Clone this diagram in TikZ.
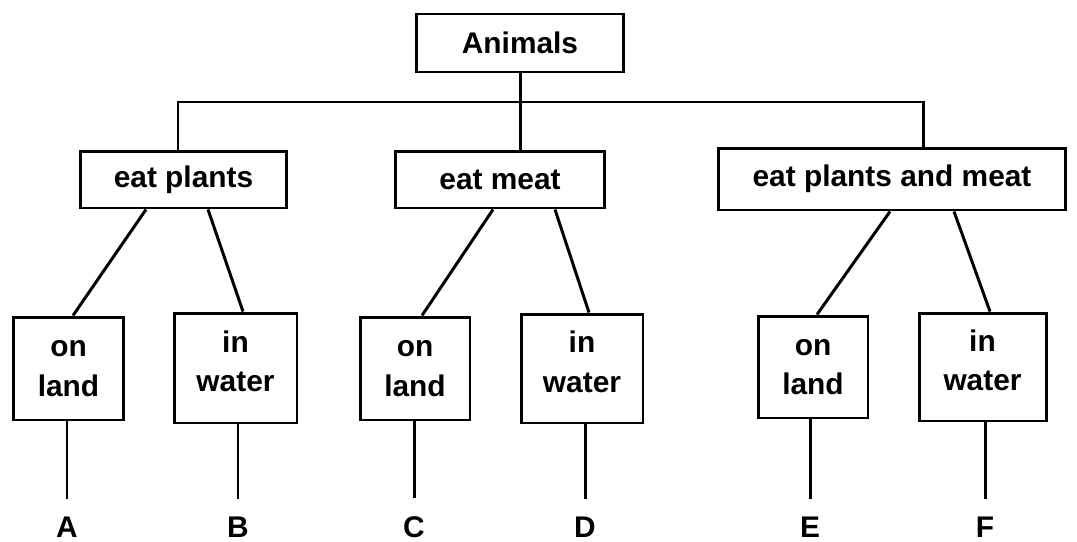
\documentclass[tikz,border=0pt]{standalone}
\usepackage{fontspec}
\setmainfont{Liberation Sans}
\usetikzlibrary{positioning}

\begin{document}
\begin{tikzpicture}[x=0.02cm, y=-0.02cm,
  block/.style={rectangle, draw=black, line width=1.7pt, align=center, inner sep=0pt, font=\bfseries\fontsize{17}{22.5}\selectfont},
  tag/.style={inner sep=0pt, outer sep=0.36cm, font=\bfseries\fontsize{17}{20}\selectfont},
  link/.style={line width=1.7pt}]

  \useasboundingbox (0,0) rectangle (1077,541);

  \node [block, minimum width=4.16cm, minimum height=1.16cm] (animals) at (520,43) {Animals};
  \node [block, minimum width=4.14cm, minimum height=1.14cm] (plants) at (183.5,179.5) {eat plants};
  \node [block, minimum width=4.2cm, minimum height=1.14cm] (meat) at (500,179.5) {eat meat};
  \node [block, minimum width=6.96cm, minimum height=1.24cm] (both) at (892,179) {eat plants and meat};

  \node [block, minimum width=2.22cm, minimum height=2.06cm] (land1) at (68.5,368.5) {on\\ land};
  \node [block, minimum width=2.46cm, minimum height=2.2cm] (water1) at (235.5,368) {in\\ water\rule[-0.28cm]{0pt}{0pt}};
  \node [block, minimum width=2.2cm, minimum height=2.06cm] (land2) at (415,368.5) {on\\ land};
  \node [block, minimum width=2.44cm, minimum height=2.18cm] (water2) at (582,368.5) {in\\ water\rule[-0.28cm]{0pt}{0pt}};
  \node [block, minimum width=2.2cm, minimum height=2.04cm] (land3) at (813,367) {on\\ land};
  \node [block, minimum width=2.54cm, minimum height=2.16cm] (water3) at (982.5,367) {in\\ water\rule[-0.28cm]{0pt}{0pt}};

  \node [tag] (A) at (67,527) {A};
  \node [tag] (B) at (238,527) {B};
  \node [tag] (C) at (414,527) {C};
  \node [tag] (D) at (585,527) {D};
  \node [tag] (E) at (810,527) {E};
  \node [tag] (F) at (985,527) {F};

  % top level
  \coordinate (bar) at (520,102);
  \draw [link] (animals.south) -- (animals.south |- meat.north);
  \draw [link] ([xshift=-0.11cm]plants.north) |- (bar) -| ([xshift=0.62cm]both.north);

  % second level
  \draw [link] ([xshift=-0.75cm]plants.south) -- ([xshift=0.09cm]land1.north);
  \draw [link] ([xshift=0.49cm]plants.south) -- ([xshift=0.15cm]water1.north);
  \draw [link] ([xshift=-0.14cm]meat.south) -- ([xshift=0.14cm]land2.north);
  \draw [link] ([xshift=1.1cm]meat.south) -- ([xshift=0.14cm]water2.north);
  \draw [link] ([xshift=-0.04cm]both.south) -- ([xshift=0.08cm]land3.north);
  \draw [link] ([xshift=1.24cm]both.south) -- ([xshift=0.15cm]water3.north);

  % letters
  \draw [link] (land1.south -| A) -- (A.north);
  \draw [link] (water1.south -| B) -- (B.north);
  \draw [link] (land2.south -| C) -- (C.north);
  \draw [link] (water2.south -| D) -- (D.north);
  \draw [link] (land3.south -| E) -- (E.north);
  \draw [link] (water3.south -| F) -- (F.north);
\end{tikzpicture}
\end{document}
